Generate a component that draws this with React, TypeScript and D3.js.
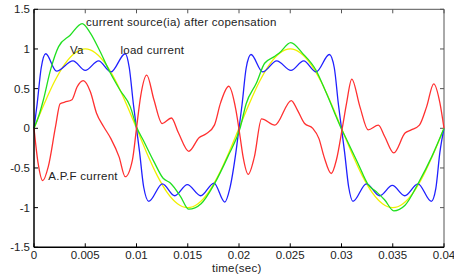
import React from 'react'
import * as d3 from 'd3'

// readings: [time (s), value]
const va: [number, number][] = [
  [0, 0], [0.001, 0.31], [0.002, 0.59], [0.003, 0.81], [0.004, 0.95], [0.005, 1.0],
  [0.006, 0.95], [0.007, 0.81], [0.008, 0.59], [0.009, 0.31], [0.01, 0],
  [0.011, -0.31], [0.012, -0.59], [0.013, -0.81], [0.014, -0.95], [0.015, -1.0],
  [0.016, -0.95], [0.017, -0.81], [0.018, -0.59], [0.019, -0.31], [0.02, 0],
  [0.021, 0.31], [0.022, 0.59], [0.023, 0.81], [0.024, 0.95], [0.025, 1.0],
  [0.026, 0.95], [0.027, 0.81], [0.028, 0.59], [0.029, 0.31], [0.03, 0],
  [0.031, -0.31], [0.032, -0.59], [0.033, -0.81], [0.034, -0.95], [0.035, -1.0],
  [0.036, -0.95], [0.037, -0.81], [0.038, -0.59], [0.039, -0.31], [0.04, 0],
]

const loadCurrent: [number, number][] = [
  [0, 0], [0.0003, 0.3], [0.0007, 0.76], [0.00114, 0.94], [0.0022, 0.72], [0.0038, 0.85],
  [0.005, 0.73], [0.0063, 0.85], [0.0075, 0.71], [0.0089, 0.94], [0.0093, 0.76], [0.0097, 0.3],
  [0.01, 0], [0.0103, -0.3], [0.0107, -0.74], [0.0112, -0.92], [0.01253, -0.7], [0.01373, -0.85],
  [0.01496, -0.71], [0.01626, -0.85], [0.01756, -0.69], [0.01861, -0.93], [0.0191, -0.76],
  [0.0197, -0.3], [0.02, 0], [0.0203, 0.3], [0.0207, 0.76], [0.02117, 0.93], [0.02231, 0.71],
  [0.02368, 0.85], [0.02507, 0.73], [0.02631, 0.85], [0.02752, 0.71], [0.02882, 0.93],
  [0.0293, 0.76], [0.0297, 0.3], [0.03, 0], [0.0303, -0.3], [0.0307, -0.74], [0.03112, -0.92],
  [0.03243, -0.7], [0.03373, -0.85], [0.03496, -0.72], [0.03617, -0.85], [0.03746, -0.7],
  [0.03876, -0.92], [0.0392, -0.76], [0.0396, -0.3], [0.04, 0],
]

const sourceCurrent: [number, number][] = [
  [0, 0], [0.0005, 0.17], [0.0009, 0.35], [0.0016, 0.73], [0.0024, 1.03], [0.0035, 1.17],
  [0.0047, 1.32], [0.0055, 1.2], [0.0064, 0.98], [0.0074, 0.71], [0.0084, 0.48], [0.0094, 0.27],
  [0.01, 0.02], [0.0107, -0.16], [0.0117, -0.42], [0.0126, -0.63], [0.0133, -0.69],
  [0.0143, -0.86], [0.0151, -1.02], [0.0163, -0.95], [0.0176, -0.7], [0.0189, -0.36],
  [0.0201, 0], [0.0207, 0.31], [0.0217, 0.57], [0.0225, 0.82], [0.0234, 0.9], [0.0239, 0.945],
  [0.02505, 1.08], [0.0262, 0.945], [0.0275, 0.735], [0.0285, 0.45], [0.0299, 0.02],
  [0.0306, -0.17], [0.0316, -0.44], [0.0326, -0.71], [0.0334, -0.8], [0.0342, -0.9],
  [0.0351, -1.04], [0.0362, -0.97], [0.0375, -0.69], [0.0388, -0.36], [0.04, 0],
]

const apfCurrent: [number, number][] = [
  [0, 0], [0.0004, -0.44], [0.00085, -0.66], [0.0014, -0.48], [0.0021, 0.02], [0.00255, 0.31],
  [0.003, 0.33], [0.0037, 0.36], [0.0042, 0.52], [0.0048, 0.6], [0.0055, 0.46], [0.0061, 0.19],
  [0.0068, 0.02], [0.0075, -0.13], [0.0083, -0.36], [0.0089, -0.61], [0.0096, -0.4], [0.01, 0],
  [0.0104, 0.4], [0.011, 0.67], [0.0117, 0.36], [0.0125, 0.06], [0.0134, 0.13], [0.0141, -0.06],
  [0.0151, -0.29], [0.0161, -0.12], [0.0168, -0.07], [0.0176, 0.04], [0.0182, 0.32],
  [0.019, 0.53], [0.0197, 0.23], [0.0201, -0.1], [0.0204, -0.36], [0.0209, -0.58],
  [0.0215, -0.36], [0.0222, 0.12], [0.0235, 0.04], [0.0251, 0.35], [0.0257, 0.23],
  [0.0264, 0.06], [0.0272, 0], [0.0278, -0.13], [0.0283, -0.36], [0.029, -0.57], [0.0295, -0.4],
  [0.0301, 0.02], [0.0305, 0.32], [0.031, 0.62], [0.0318, 0.27], [0.0326, -0.02], [0.0336, 0.04],
  [0.0342, -0.1], [0.0351, -0.31], [0.0362, -0.06], [0.0368, -0.02], [0.0376, 0.04],
  [0.0383, 0.27], [0.039, 0.56], [0.0396, 0.32], [0.04, 0],
]

const xTicks = [0, 0.005, 0.01, 0.015, 0.02, 0.025, 0.03, 0.035, 0.04]
const yTicks = [-1.5, -1, -0.5, 0, 0.5, 1, 1.5]

const W = 454
const H = 277
const left = 34, right = 444, top = 9.3, bottom = 247.3

export default function App() {
  const x = d3.scaleLinear().domain([0, 0.04]).range([left, right])
  const y = d3.scaleLinear().domain([-1.5, 1.5]).range([bottom, top])
  const line = d3.line<[number, number]>()
    .x((d) => x(d[0]))
    .y((d) => y(d[1]))
    .curve(d3.curveMonotoneX)

  const series = [
    { data: va, color: '#f0f000' },
    { data: loadCurrent, color: '#2020ff' },
    { data: sourceCurrent, color: '#20e020' },
    { data: apfCurrent, color: '#ff3030' },
  ]
  const font = "'Liberation Sans', Arial, sans-serif"

  return (
    <svg width={W} height={H} style={{ position: 'absolute', left: 0, top: 0, background: '#fff' }}
      fontFamily={font} fontSize={11.5}>
      <rect x={0} y={0} width={W} height={H} fill="#fff" />
      {/* box */}
      <line x1={left} x2={right} y1={top} y2={top} stroke="#555" strokeWidth={1} />
      <line x1={right} x2={right} y1={top} y2={bottom} stroke="#555" strokeWidth={1} />
      {xTicks.map((t) => (
        <g key={'x' + t}>
          <line x1={x(t)} x2={x(t)} y1={bottom} y2={bottom - 4} stroke="#000" />
          <line x1={x(t)} x2={x(t)} y1={top} y2={top + 4} stroke="#555" />
          <text x={x(t)} y={259} textAnchor="middle" fill="#222">{String(t)}</text>
        </g>
      ))}
      {yTicks.map((v) => (
        <g key={'y' + v}>
          <line x1={left} x2={left + 4} y1={y(v)} y2={y(v)} stroke="#000" />
          <line x1={right} x2={right - 4} y1={y(v)} y2={y(v)} stroke="#555" />
          <text x={30} y={y(v)} dy="0.35em" textAnchor="end" fill="#222">{String(v)}</text>
        </g>
      ))}
      {series.map((s, i) => (
        <path key={i} d={line(s.data) || ''} fill="none" stroke={s.color} strokeWidth={1.3} />
      ))}
      <line x1={left} x2={left} y1={top} y2={bottom} stroke="#000" strokeWidth={1.5} />
      <line x1={left} x2={right} y1={bottom} y2={bottom} stroke="#000" strokeWidth={1.5} />
      <g fill="#222" letterSpacing={0.25}>
        <text x={86} y={26}>current source(ia) after copensation</text>
        <text x={70} y={53.5}>Va</text>
        <text x={120.5} y={54}>load current</text>
        <text x={48.3} y={179.5}>A.P.F current</text>
        <text x={212} y={272}>time(sec)</text>
      </g>
    </svg>
  )
}
